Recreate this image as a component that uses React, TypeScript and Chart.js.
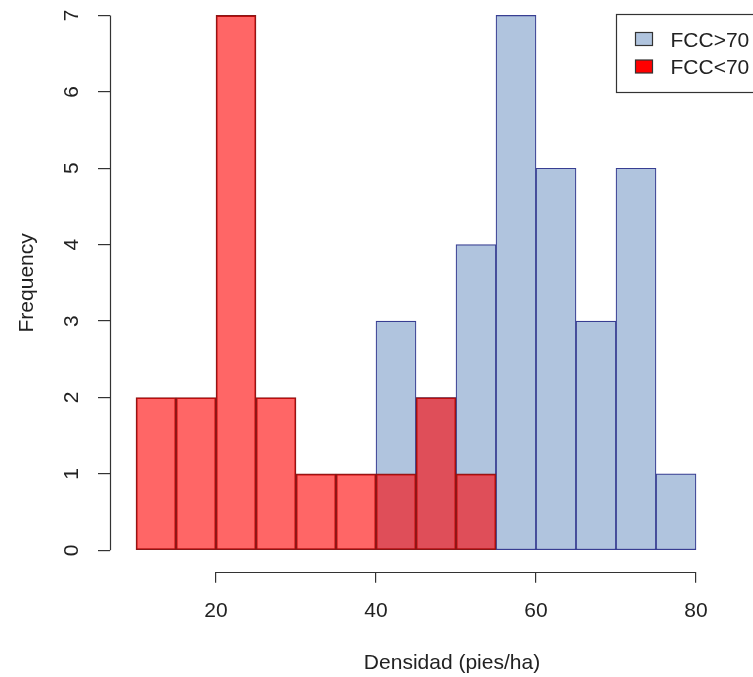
import React, { useEffect, useRef } from "react";
import { Chart, registerables } from "chart.js";

Chart.register(...registerables);

// ---- Data ----
const fccHighLabel = "FCC>70";
const fccHighMids = [42.5, 47.5, 52.5, 57.5, 62.5, 67.5, 72.5, 77.5];
const fccHighCounts = [3, 2, 4, 7, 5, 3, 5, 1];

const fccLowLabel = "FCC<70";
const fccLowMids = [12.5, 17.5, 22.5, 27.5, 32.5, 37.5, 42.5, 47.5, 52.5];
const fccLowCounts = [2, 2, 7, 2, 1, 1, 1, 2, 1];

const xTicks = [20, 40, 60, 80];
const yTicks = [0, 1, 2, 3, 4, 5, 6, 7];

const xTitle = "Densidad (pies/ha)";
const yTitle = "Frequency";

const FONT = "'Liberation Sans', Arial, sans-serif";
const INK = "#222";
const AXIS = "#333";

const axisLinesPlugin = {
  id: "rAxisLines",
  afterDraw(chart: any) {
    const { ctx, chartArea, scales } = chart;
    const xs = scales.x;
    const ys = scales.y;
    ctx.save();
    ctx.strokeStyle = AXIS;
    ctx.lineWidth = 1.2;
    ctx.beginPath();
    const yb = Math.round(chartArea.bottom) + 0.5;
    ctx.moveTo(xs.getPixelForValue(xTicks[0]), yb);
    ctx.lineTo(xs.getPixelForValue(xTicks[xTicks.length - 1]), yb);
    const xl = Math.round(chartArea.left) + 0.5;
    ctx.moveTo(xl, ys.getPixelForValue(yTicks[0]));
    ctx.lineTo(xl, ys.getPixelForValue(yTicks[yTicks.length - 1]));
    ctx.stroke();
    ctx.restore();
  },
};

const legendBoxPlugin = {
  id: "rLegendBox",
  afterDraw(chart: any) {
    const { ctx } = chart;
    const items = chart.data.datasets.map((d: any) => ({
      label: d.label,
      fill: d.legendColor,
    }));
    ctx.save();
    ctx.strokeStyle = AXIS;
    ctx.lineWidth = 1.2;
    ctx.strokeRect(616.5, 20.5, 300, 78);
    ctx.font = `21px ${FONT}`;
    ctx.textBaseline = "middle";
    ctx.textAlign = "left";
    items.forEach((it: any, i: number) => {
      const sy = 38.5 + i * 27.5;
      ctx.fillStyle = it.fill;
      ctx.fillRect(635.5, sy, 17, 13);
      ctx.strokeRect(635.5, sy, 17, 13);
      ctx.fillStyle = INK;
      ctx.fillText(it.label, 670.5, 47.5 + i * 26.8);
    });
    ctx.restore();
  },
};

export default function App() {
  const ref = useRef<HTMLCanvasElement | null>(null);

  useEffect(() => {
    if (!ref.current) return;
    const chart = new Chart(ref.current, {
      type: "bar",
      data: {
        datasets: [
          {
            label: fccHighLabel,
            data: fccHighMids.map((x, i) => ({ x, y: fccHighCounts[i] })),
            backgroundColor: "#B0C4DE",
            borderColor: "#383e92",
            borderWidth: 1.2,
            borderSkipped: false,
            grouped: false,
            barPercentage: 1,
            categoryPercentage: 1,
            order: 2,
            legendColor: "#B0C4DE",
          } as any,
          {
            label: fccLowLabel,
            data: fccLowMids.map((x, i) => ({ x, y: fccLowCounts[i] })),
            backgroundColor: "rgba(255,0,0,0.6)",
            borderColor: "#881818",
            borderWidth: 1.2,
            borderSkipped: false,
            grouped: false,
            barPercentage: 1,
            categoryPercentage: 1,
            order: 1,
            legendColor: "#FF0000",
          } as any,
        ],
      },
      options: {
        responsive: false,
        animation: false,
        events: [],
        layout: { padding: 0 },
        plugins: {
          legend: { display: false },
          tooltip: { enabled: false },
        },
        scales: {
          x: {
            type: "linear",
            position: "bottom",
            offset: false,
            min: 6.75,
            max: 92.25,
            afterBuildTicks: (s: any) => {
              s.ticks = xTicks.map((v) => ({ value: v }));
            },
            afterFit: (s: any) => {
              s.height = 105.3;
              s.paddingLeft = 0;
              s.paddingRight = 0;
            },
            grid: {
              offset: false,
              drawOnChartArea: false,
              drawTicks: true,
              tickLength: 11,
              color: AXIS,
              lineWidth: 1.2,
            },
            border: { display: false },
            ticks: {
              autoSkip: false,
              maxRotation: 0,
              minRotation: 0,
              padding: 15.5,
              color: INK,
              font: { family: FONT, size: 21 },
              callback: (v: any) => String(v),
            },
            title: {
              display: true,
              text: xTitle,
              color: INK,
              font: { family: FONT, size: 21 },
              padding: { top: 0, bottom: 1.6 },
            },
          },
          y: {
            type: "linear",
            position: "left",
            min: -0.28,
            max: 7.28,
            afterBuildTicks: (s: any) => {
              s.ticks = yTicks.map((v) => ({ value: v }));
            },
            afterFit: (s: any) => {
              s.width = 110;
              s.paddingTop = 0;
              s.paddingBottom = 0;
            },
            grid: {
              drawOnChartArea: false,
              drawTicks: true,
              tickLength: 12,
              color: AXIS,
              lineWidth: 1.2,
            },
            border: { display: false },
            ticks: {
              autoSkip: false,
              minRotation: 90,
              maxRotation: 90,
              crossAlign: "center",
              padding: 20,
              color: INK,
              font: { family: FONT, size: 21 },
              callback: (v: any) => String(v),
            },
            title: {
              display: true,
              text: yTitle,
              color: INK,
              font: { family: FONT, size: 21 },
              padding: { top: 15, bottom: 0 },
            },
          },
        },
      } as any,
      plugins: [axisLinesPlugin, legendBoxPlugin],
    });
    return () => chart.destroy();
  }, []);

  return (
    <div
      style={{
        position: "fixed",
        left: 0,
        top: 0,
        width: 753,
        height: 677,
        overflow: "hidden",
        background: "#fff",
      }}
    >
      <canvas
        ref={ref}
        width={794}
        height={683}
        style={{ position: "absolute", left: 0, top: -6, width: 794, height: 683 }}
      />
    </div>
  );
}
